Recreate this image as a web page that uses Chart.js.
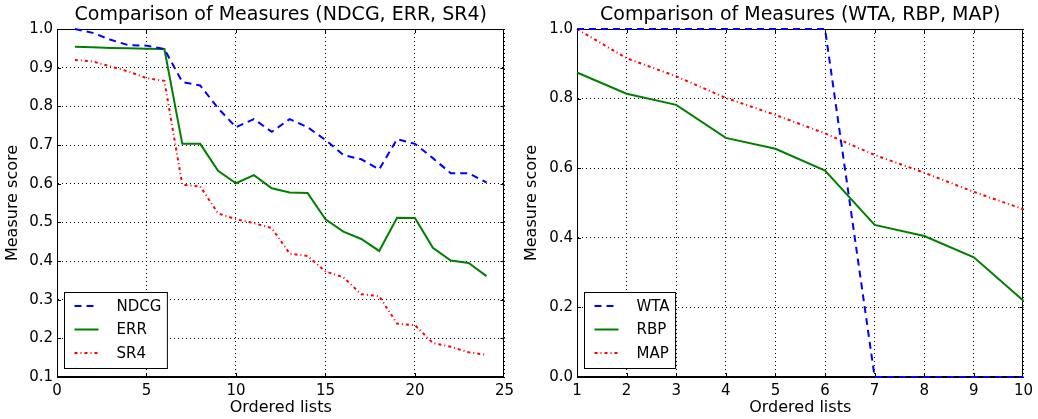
<!DOCTYPE html>
<html>
<head>
<meta charset="utf-8">
<script src="https://cdn.jsdelivr.net/npm/chart.js@4/dist/chart.umd.min.js"></script>
<style>
  html, body { margin: 0; padding: 0; background: #fff; }
  .panel { position: absolute; top: 0; width: 519px; height: 419px; }
  #left { left: 0; }
  #right { left: 519px; }
</style>
</head>
<body>
<div class="panel" id="left"><canvas id="chart-left" width="519" height="419"></canvas></div>
<div class="panel" id="right"><canvas id="chart-right" width="519" height="419"></canvas></div>
<script>
// Left panel: 24 ordered lists
const listsLeft = [1, 2, 3, 4, 5, 6, 7, 8, 9, 10, 11, 12, 13, 14, 15, 16, 17, 18, 19, 20, 21, 22, 23, 24];
const ndcg = [1.0, 0.99, 0.972, 0.958, 0.957, 0.948, 0.863, 0.854, 0.795, 0.746, 0.767, 0.734,
              0.767, 0.746, 0.713, 0.674, 0.663, 0.637, 0.715, 0.703, 0.666, 0.627, 0.627, 0.603];
const err  = [0.954, 0.953, 0.951, 0.950, 0.949, 0.948, 0.703, 0.703, 0.633, 0.601, 0.622, 0.588,
              0.577, 0.576, 0.508, 0.476, 0.457, 0.426, 0.512, 0.511, 0.434, 0.401, 0.395, 0.361];
const sr4  = [0.920, 0.916, 0.903, 0.890, 0.873, 0.866, 0.597, 0.593, 0.523, 0.508, 0.498, 0.485,
              0.419, 0.413, 0.373, 0.358, 0.314, 0.309, 0.238, 0.234, 0.188, 0.178, 0.164, 0.157];

// Right panel: 10 ordered lists
const listsRight = [1, 2, 3, 4, 5, 6, 7, 8, 9, 10];
const wta = [1, 1, 1, 1, 1, 1, 0, 0, 0, 0];
const rbp = [0.875, 0.814, 0.782, 0.687, 0.656, 0.593, 0.437, 0.405, 0.344, 0.219];
const map = [1.0, 0.916, 0.864, 0.802, 0.753, 0.700, 0.638, 0.587, 0.532, 0.482];

Chart.defaults.font.family = "'DejaVu Sans', sans-serif";
Chart.defaults.color = '#000';

const toPoints = (xs, ys) => xs.map((x, i) => ({ x: x, y: ys[i] }));

// frame + inward ticks like matplotlib (drawn under the lines)
const frameTicks = {
  id: 'frameTicks',
  beforeDatasetsDraw(chart) {
    const { ctx, chartArea: a } = chart;
    const len = 4;
    ctx.save();
    ctx.strokeStyle = '#000';
    ctx.lineWidth = 1;
    ctx.beginPath();
    chart.scales.x.ticks.forEach(t => {
      const px = Math.round(chart.scales.x.getPixelForValue(t.value)) + 0.5;
      if (px <= a.left + 1 || px >= a.right - 1) return;
      ctx.moveTo(px, a.bottom); ctx.lineTo(px, a.bottom - len);
      ctx.moveTo(px, a.top); ctx.lineTo(px, a.top + len);
    });
    chart.scales.y.ticks.forEach(t => {
      const py = Math.round(chart.scales.y.getPixelForValue(t.value)) + 0.5;
      if (py <= a.top + 1 || py >= a.bottom - 1) return;
      ctx.moveTo(a.left, py); ctx.lineTo(a.left + len, py);
      ctx.moveTo(a.right, py); ctx.lineTo(a.right - len, py);
    });
    ctx.stroke();
    ctx.strokeRect(Math.round(a.left) + 0.5, Math.round(a.top) + 0.5,
                   Math.round(a.right - a.left) - 1, Math.round(a.bottom - a.top) - 1);
    ctx.restore();
  }
};

// boxed legend in the lower-left corner of the axes
const boxLegend = {
  id: 'boxLegend',
  afterDraw(chart) {
    const { ctx, chartArea: a } = chart;
    const sets = chart.data.datasets;
    ctx.save();
    ctx.font = "15px 'DejaVu Sans'";
    const textW = Math.max(...sets.map(d => ctx.measureText(d.label).width));
    const w = 52 + textW + 6, h = 76;
    const x0 = Math.round(a.left) + 7.5, y0 = Math.round(a.bottom) - 8.5 - h;
    ctx.fillStyle = '#fff';
    ctx.fillRect(x0, y0, w, h);
    ctx.strokeStyle = '#000';
    ctx.lineWidth = 1;
    ctx.strokeRect(x0, y0, w, h);
    sets.forEach((d, i) => {
      const y = y0 + 13.5 + i * 23.5;
      ctx.beginPath();
      ctx.setLineDash(d.borderDash || []);
      ctx.strokeStyle = d.borderColor;
      ctx.lineWidth = d.borderWidth;
      ctx.moveTo(x0 + 10, y); ctx.lineTo(x0 + 34, y);
      ctx.stroke();
      ctx.setLineDash([]);
      ctx.fillStyle = '#000';
      ctx.textBaseline = 'middle';
      ctx.fillText(d.label, x0 + 52, y + 1);
    });
    ctx.restore();
  }
};

function series(label, xs, ys, color, dash) {
  return {
    label: label,
    data: toPoints(xs, ys),
    borderColor: color,
    backgroundColor: color,
    borderWidth: 2,
    borderDash: dash,
    pointRadius: 0,
    tension: 0,
    fill: false,
    clip: false
  };
}

function makeChart(id, title, datasets, xOpts, yOpts, padRight) {
  return new Chart(document.getElementById(id), {
    type: 'line',
    data: { datasets: datasets },
    options: {
      responsive: false,
      animation: false,
      layout: { padding: { left: 0, right: padRight, top: 0, bottom: 0 } },
      plugins: {
        legend: { display: false },
        tooltip: { enabled: false },
        title: {
          display: true,
          text: title,
          fullSize: false,
          color: '#000',
          font: { size: 19, weight: 'normal', lineHeight: 1.2 },
          padding: { top: 4, bottom: 2.2 }
        }
      },
      scales: {
        x: Object.assign({
          type: 'linear',
          grid: { color: '#000', lineWidth: 1, drawTicks: false },
          border: { display: true, color: '#000', dash: [1, 3] },
          title: { display: true, text: 'Ordered lists', font: { size: 16 }, padding: { top: 0, bottom: 2 } },
          afterFit(scale) { scale.height = 42; }
        }, xOpts),
        y: Object.assign({
          grid: { color: '#000', lineWidth: 1, drawTicks: false },
          border: { display: true, color: '#000', dash: [1, 3] },
          title: { display: true, text: 'Measure score', font: { size: 16 }, padding: { top: 3, bottom: 0 } },
          afterFit(scale) { scale.width = yOpts.axisWidth; }
        }, yOpts)
      }
    },
    plugins: [frameTicks, boxLegend]
  });
}

makeChart('chart-left', 'Comparison of Measures (NDCG, ERR, SR4)', [
  series('NDCG', listsLeft, ndcg, '#0000ff', [7, 5]),
  series('ERR', listsLeft, err, '#008000', []),
  series('SR4', listsLeft, sr4, '#ff0000', [3, 3, 1, 3])
], {
  min: 0, max: 25,
  ticks: { stepSize: 5, padding: 5, font: { size: 15 } }
}, {
  axisWidth: 57,
  min: 0.1, max: 1.0,
  ticks: { stepSize: 0.1, padding: 4, font: { size: 15 }, callback: v => v.toFixed(1) }
}, 13);

makeChart('chart-right', 'Comparison of Measures (WTA, RBP, MAP)', [
  series('WTA', listsRight, wta, '#0000ff', [7, 5]),
  series('RBP', listsRight, rbp, '#008000', []),
  series('MAP', listsRight, map, '#ff0000', [3, 3, 1, 3])
], {
  min: 1, max: 10,
  ticks: { stepSize: 1, padding: 5, font: { size: 15 } }
}, {
  axisWidth: 58,
  min: 0, max: 1.0,
  ticks: { stepSize: 0.2, padding: 4, font: { size: 15 }, callback: v => v.toFixed(1) }
}, 11);
</script>
</body>
</html>
